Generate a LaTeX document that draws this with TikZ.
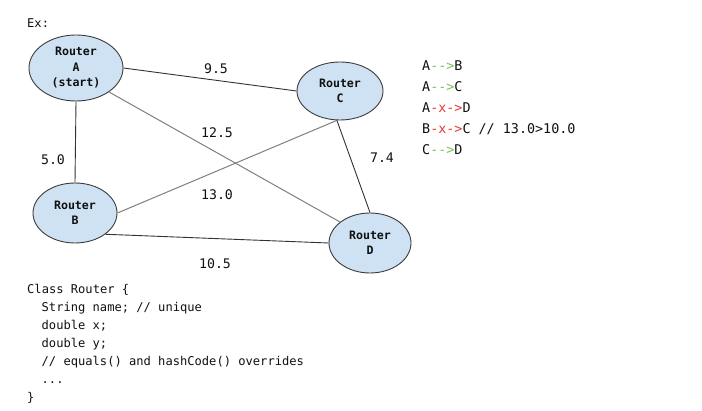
\documentclass[tikz,border=0pt]{standalone}
\usepackage{fontspec}
\setmonofont{DejaVu Sans Mono}
\usetikzlibrary{shapes.geometric}
\definecolor{nodefill}{HTML}{CFE2F3}
\definecolor{nodeedge}{HTML}{3C3C3C}
\definecolor{darkline}{HTML}{333333}
\definecolor{greyline}{HTML}{808080}
\definecolor{okgreen}{HTML}{7DBE5E}
\definecolor{badred}{HTML}{E53935}
\definecolor{txt}{HTML}{111111}
\tikzset{
  router/.style={ellipse, draw=nodeedge, fill=nodefill, line width=0.9pt, inner sep=0pt,
    align=center, text=txt, font=\ttfamily\bfseries\fontsize{11.6}{15.5}\selectfont},
  linkd/.style={draw=darkline, line width=0.9pt},
  linkg/.style={draw=greyline, line width=1pt},
  wlabel/.style={text=txt, inner sep=0pt, font=\ttfamily\fontsize{13.2}{15}\selectfont},
  codeline/.style={anchor=base west, inner sep=0pt, text=txt, font=\ttfamily\fontsize{12.1}{18}\selectfont},
  listline/.style={anchor=base west, inner sep=0pt, text=txt, font=\ttfamily\fontsize{13.4}{18}\selectfont}
}
\begin{document}
\begin{tikzpicture}[x=1pt,y=-1pt]
\useasboundingbox (0,0) rectangle (702,411);
\fill[white] (0,0) rectangle (702,411);
\node[codeline] (ex) at (27,28) {Ex:};
% routers
\node[router, minimum width=94pt, minimum height=66pt] (A) at (76,68) {Router\\A\\(start)};
\node[router, minimum width=86pt, minimum height=58pt] (C) at (340,91) {Router\\C};
\node[router, minimum width=84pt, minimum height=60pt] (B) at (75,213) {Router\\B};
\node[router, minimum width=82pt, minimum height=60pt] (D) at (370,243) {Router\\D};
% links
\draw[linkd] (A.east) -- (C.west);
\draw[linkd] (A.south) -- (B.north);
\draw[linkg] (A.-36) -- (D.145);
\draw[linkg] (C.264) -- (B.east);
\draw[linkd] (C.264) -- (D.north);
\draw[linkd] (B.-35) -- (D.west);
% weights
\node[wlabel] (w1) at (216,69) {9.5};
\node[wlabel] (w2) at (217,133) {12.5};
\node[wlabel] (w3) at (53,160) {5.0};
\node[wlabel] (w4) at (382,158) {7.4};
\node[wlabel] (w5) at (217,195) {13.0};
\node[wlabel] (w6) at (215,264) {10.5};
% list
\node[listline] (l1) at (422,71) {A\textcolor{okgreen}{-{}-{}>}B};
\node[listline] (l2) at (422,92) {A\textcolor{okgreen}{-{}-{}>}C};
\node[listline] (l3) at (422,113) {A\textcolor{badred}{-x->}D};
\node[listline] (l4) at (422,134) {B\textcolor{badred}{-x->}C // 13.0>10.0};
\node[listline] (l5) at (422,155) {C\textcolor{okgreen}{-{}-{}>}D};
% code
\node[codeline] (c1) at (27,294) {Class Router \{};
\node[codeline] (c2) at (41.5,312) {String name; // unique};
\node[codeline] (c3) at (41.5,330) {double x;};
\node[codeline] (c4) at (41.5,348) {double y;};
\node[codeline] (c5) at (41.5,366) {// equals() and hashCode() overrides};
\node[codeline] (c6) at (41.5,384) {...};
\node[codeline] (c7) at (27,402) {\}};
\end{tikzpicture}
\end{document}
